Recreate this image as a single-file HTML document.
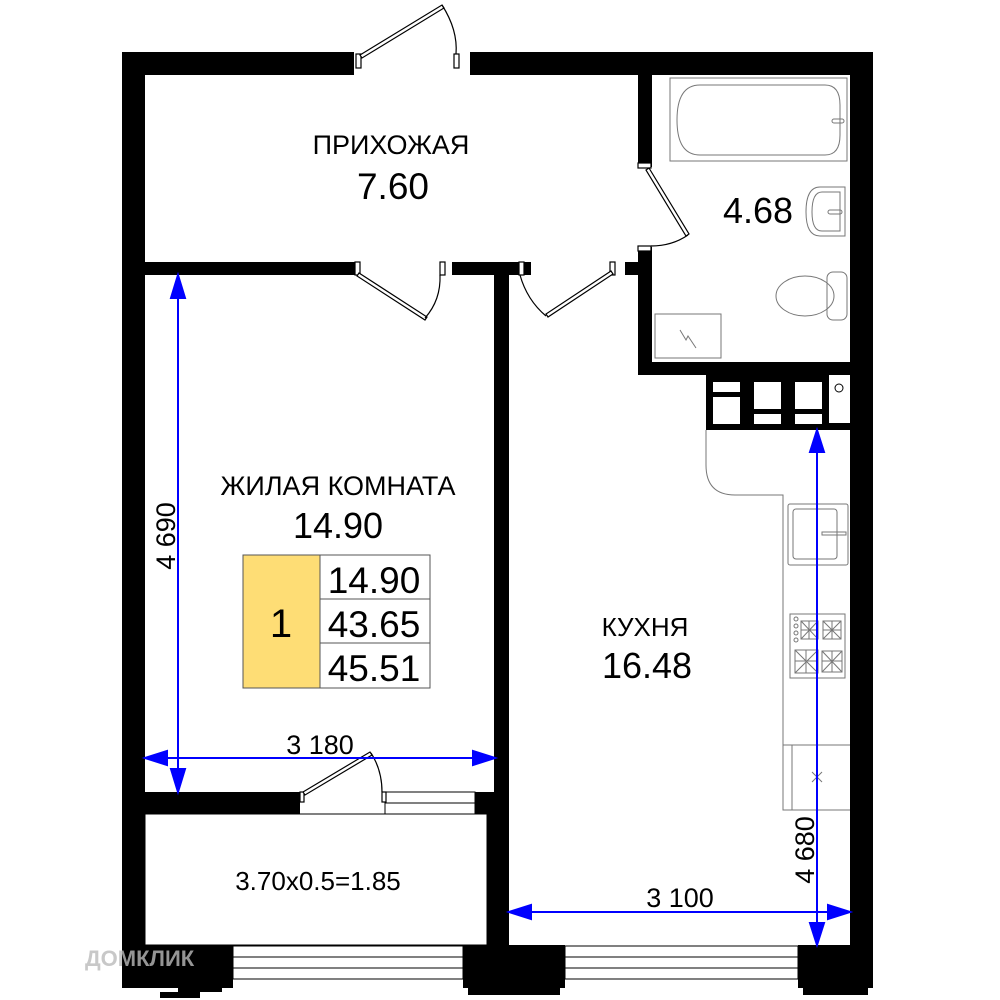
<!DOCTYPE html>
<html><head><meta charset="utf-8"><style>
html,body{margin:0;padding:0;background:#fff}
svg{display:block}
text{font-family:"Liberation Sans",Arial,sans-serif;fill:#000}
</style></head><body>
<svg width="1000" height="1000" viewBox="0 0 1000 1000" xmlns="http://www.w3.org/2000/svg">
<rect width="1000" height="1000" fill="#fff"/>
<g fill="#000">
<rect x="122" y="52" width="23" height="900"/>
<rect x="122" y="52" width="232" height="23"/>
<rect x="470" y="52" width="403" height="23"/>
<rect x="850" y="52" width="23" height="900"/>
<rect x="638" y="75" width="14" height="92"/>
<rect x="638" y="247" width="14" height="128"/>
<rect x="625" y="262" width="14" height="13"/>
<rect x="638" y="362" width="212" height="13"/>
<rect x="706" y="375" width="144" height="55"/>
<rect x="145" y="262" width="210" height="13"/>
<rect x="452" y="262" width="79" height="13"/>
<rect x="494" y="275" width="15" height="520"/>
<rect x="487" y="792" width="22" height="160"/>
<rect x="145" y="792" width="155" height="22"/>
<rect x="475" y="792" width="12" height="22"/>
<path d="M122 945 H233 V988 H222 V992 H200 V998 H160 V992 H178 V988 H122 Z"/>
<rect x="463" y="945" width="102" height="43"/>
<rect x="468" y="985" width="92" height="10"/>
<rect x="798" y="945" width="75" height="43"/>
<rect x="803" y="985" width="65" height="10"/>
</g>
<g fill="#fff">
<rect x="713" y="382" width="27" height="10"/>
<rect x="713" y="397" width="27" height="27"/>
<rect x="754" y="382" width="27" height="27"/>
<rect x="754" y="414" width="27" height="10"/>
<rect x="795" y="382" width="27" height="27"/>
<rect x="795" y="414" width="27" height="10"/>
<rect x="829" y="375" width="21" height="48"/>
</g>
<circle cx="839" cy="388" r="4" fill="none" stroke="#000" stroke-width="1"/>
<g stroke="#000" stroke-width="1" fill="none">
<rect x="233" y="946" width="230" height="33"/>
<line x1="233" y1="957" x2="463" y2="957"/><line x1="233" y1="968" x2="463" y2="968"/>
<rect x="565" y="946" width="233" height="33"/>
<line x1="565" y1="957" x2="798" y2="957"/><line x1="565" y1="968" x2="798" y2="968"/>
<rect x="385" y="792" width="90" height="22"/>
<line x1="385" y1="803" x2="475" y2="803"/>
<rect x="145" y="814" width="342" height="131"/>
</g>
<g stroke="#000" stroke-width="1.2" fill="#fff">
<rect x="356" y="54" width="5" height="14"/>
<rect x="454" y="54" width="5" height="14"/>
<path d="M360 55 L442 5 L444 8 L362 58 Z"/>
<path d="M442 5 Q458 30 456 54" fill="none"/>
<rect x="355" y="262" width="5" height="13"/>
<rect x="440" y="262" width="5" height="13"/>
<path d="M359 273 L427 317 L425 320 L357 276 Z"/>
<path d="M425 318 Q441 300 440 275" fill="none"/>
<rect x="519" y="262" width="5" height="13"/>
<rect x="610" y="262" width="5" height="13"/>
<path d="M611 271 L546 314 L548 317 L613 274 Z"/>
<path d="M546 316 Q527 300 520 275" fill="none"/>
<rect x="638" y="163" width="13" height="5"/>
<rect x="638" y="246" width="13" height="5"/>
<path d="M649 168 L689 234 L686 236 L646 170 Z"/>
<path d="M688 235 Q672 246 651 246" fill="none"/>
<rect x="300" y="792" width="4" height="10"/>
<rect x="382" y="792" width="4" height="10"/>
<path d="M303 792 L370 752 L372 755 L305 795 Z"/>
<path d="M371 753 Q382 770 382 792" fill="none"/>
</g>
<g stroke="#777" stroke-width="1" fill="none">
<rect x="670" y="78" width="177" height="83"/>
<path d="M700 85 H825 Q840 85 840 105 V135 Q840 155 825 155 H700 Q677 155 677 120 Q677 85 700 85 Z"/>
<rect x="832" y="119" width="12" height="4" rx="2"/>
<path d="M845 187 H820 Q806 187 806 212 Q806 236 820 236 H845 Z"/>
<path d="M840 192 H822 Q812 192 812 212 Q812 231 822 231 H840 Z"/>
<rect x="828" y="210" width="14" height="4" rx="2"/>
<ellipse cx="805" cy="296" rx="29" ry="20"/>
<rect x="827" y="272" width="20" height="48" rx="6"/>
<rect x="655" y="314" width="66" height="44"/>
<path d="M680 330 L686 340 L688 336 L696 348"/>
<path d="M706 430 V465 Q706 495 735 495 H783 V810 H850"/>
<line x1="783" y1="745" x2="850" y2="745"/><line x1="792" y1="745" x2="792" y2="810"/>
<path d="M812 772 L822 782 M822 772 L812 782"/>
<rect x="788" y="504" width="60" height="61" rx="2"/>
<rect x="793" y="509" width="44" height="50" rx="3"/>
<rect x="822" y="532" width="24" height="3"/>
<rect x="790" y="614" width="55" height="64"/>
<rect x="801" y="621" width="17" height="18"/><rect x="823" y="621" width="18" height="18"/>
<rect x="795" y="650" width="23" height="23"/><rect x="822" y="651" width="20" height="21"/>
<path d="M801 621 L818 639 M818 621 L801 639 M809 621 V639 M801 630 H818 M823 621 L841 639 M841 621 L823 639 M832 621 V639 M823 630 H841 M795 650 L818 673 M818 650 L795 673 M806 650 V673 M795 661 H818 M822 651 L842 672 M842 651 L822 672 M832 651 V672 M822 661 H842"/>
<circle cx="796" cy="619" r="2"/><circle cx="796" cy="626" r="2"/><circle cx="796" cy="633" r="2"/><circle cx="796" cy="640" r="2"/>
</g>
<g stroke="#0000ff" stroke-width="2" fill="#0000ff">
<line x1="178" y1="280" x2="178" y2="788"/>
<path d="M178 275 L171 298 L185 298 Z"/><path d="M178 792 L171 769 L185 769 Z"/>
<line x1="150" y1="758" x2="490" y2="758"/>
<path d="M145 758 L167 751 L167 765 Z"/><path d="M495 758 L473 751 L473 765 Z"/>
<line x1="514" y1="912" x2="845" y2="912"/>
<path d="M509 912 L531 905 L531 919 Z"/><path d="M850 912 L828 905 L828 919 Z"/>
<line x1="817" y1="435" x2="817" y2="940"/>
<path d="M817 430 L810 452 L824 452 Z"/><path d="M817 945 L810 923 L824 923 Z"/>
</g>
<text x="391" y="154" font-size="27" text-anchor="middle">ПРИХОЖАЯ</text>
<text x="393" y="199" font-size="37" text-anchor="middle">7.60</text>
<text x="758" y="223" font-size="36" text-anchor="middle">4.68</text>
<text x="338" y="495" font-size="27" text-anchor="middle">ЖИЛАЯ КОМНАТА</text>
<text x="338" y="538" font-size="36" text-anchor="middle">14.90</text>
<text x="645" y="636" font-size="26" text-anchor="middle">КУХНЯ</text>
<text x="647" y="678" font-size="36" text-anchor="middle">16.48</text>
<text x="318" y="890" font-size="26" text-anchor="middle">3.70x0.5=1.85</text>
<text x="320" y="754" font-size="27" text-anchor="middle">3 180</text>
<text x="680" y="907" font-size="27" text-anchor="middle">3 100</text>
<text transform="translate(175,536) rotate(-90)" font-size="27" text-anchor="middle">4 690</text>
<text transform="translate(814,850) rotate(-90)" font-size="27" text-anchor="middle">4 680</text>
<rect x="243" y="555" width="77" height="133" fill="#fedd75" stroke="#555" stroke-width="1"/>
<rect x="320" y="555" width="110" height="133" fill="#fff" stroke="#555" stroke-width="1"/>
<line x1="320" y1="599" x2="430" y2="599" stroke="#555"/>
<line x1="320" y1="643" x2="430" y2="643" stroke="#555"/>
<text x="281" y="637" font-size="40" text-anchor="middle">1</text>
<text x="374" y="593" font-size="37" text-anchor="middle">14.90</text>
<text x="374" y="637" font-size="37" text-anchor="middle">43.65</text>
<text x="374" y="681" font-size="37" text-anchor="middle">45.51</text>
<text x="85" y="966" font-size="22" font-weight="bold" style="fill:#bbb;opacity:.8">ДОМКЛИК</text>
</svg>
</body></html>
